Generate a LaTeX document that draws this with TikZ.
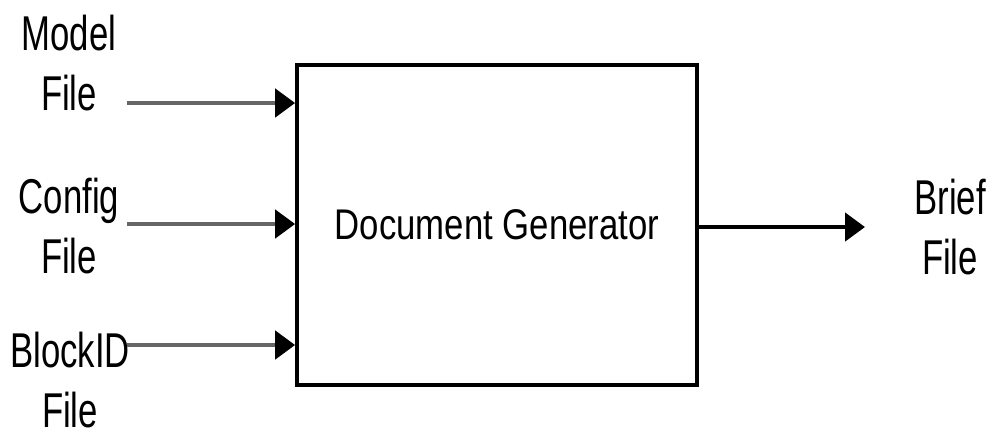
\documentclass[tikz,border=0pt]{standalone}
\usepackage{fontspec}
\setmainfont{Liberation Sans}
\usetikzlibrary{positioning,arrows.meta}

\begin{document}
\begin{tikzpicture}[
    x=0.01cm, y=-0.01cm,
    label/.style={align=center, inner sep=0pt, xscale=0.71,
        font=\fontsize{13.9}{17}\selectfont},
    flow/.style={-{Triangle[length=0.2cm, width=0.28cm, color=black]}, line width=1.3pt},
    infeed/.style={flow, draw=black!60}
]
\useasboundingbox (0,0) rectangle (992,435);
\node (gen) [draw, line width=1pt, minimum width=4cm, minimum height=3.2cm,
    font=\fontsize{12.2}{15}\selectfont] at (497,225) {\scalebox{0.81}[1]{Document Generator}};
\node (model) [label] at (69,63) {Model\\File};
\node (config) [label] at (69,226) {Config\\File};
\node (block) [label] at (70,380) {BlockID\\File};
\node (brief) [label] at (950,227) {Brief\\File};
\coordinate (mstart) at (127,103);
\coordinate (cstart) at (127,224);
\coordinate (bstart) at (127,345);
\coordinate (bend) at (865,227);
\draw[infeed] (mstart) -- (mstart -| gen.west);
\draw[infeed] (cstart) -- (cstart -| gen.west);
\draw[infeed] (bstart) -- (bstart -| gen.west);
\draw[flow] (bend -| gen.east) -- (bend);
\end{tikzpicture}
\end{document}
